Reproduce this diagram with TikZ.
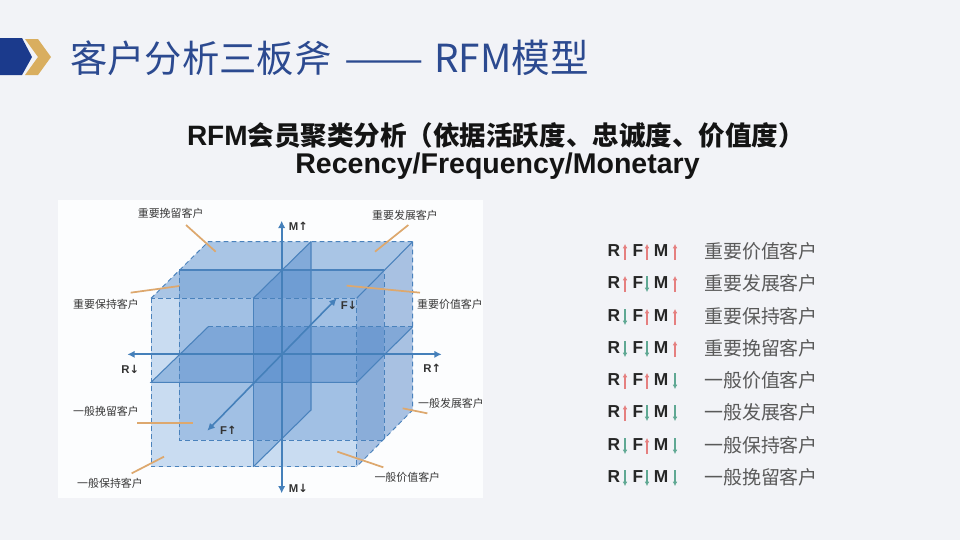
\documentclass[tikz,border=0pt]{standalone}
\usepackage{graphicx}
\usepackage{fontspec}
\setmainfont{Liberation Sans}
\newfontfamily\cjk{Noto Sans CJK SC}
\newfontfamily\symb{DejaVu Sans}
\usetikzlibrary{arrows.meta}
\definecolor{slidebg}{HTML}{F2F3F7}
\definecolor{navy}{HTML}{1B3A8C}
\definecolor{gold}{HTML}{D9AE5F}
\definecolor{titleblue}{HTML}{2C4A90}
\definecolor{panel}{HTML}{FCFDFE}
\definecolor{axisblue}{HTML}{4580BA}
\definecolor{edgeblue}{HTML}{4A82BC}
\definecolor{planeblue}{HTML}{4580C6}
\definecolor{leader}{HTML}{DDA86E}
\definecolor{upred}{HTML}{E57F7F}
\definecolor{downgreen}{HTML}{5FA893}
\definecolor{topface}{HTML}{A9C5E5}
\definecolor{frontface}{HTML}{C9DCF1}
\definecolor{sideface}{HTML}{A8C1E2}
\tikzset{
  txt/.style={inner sep=0pt,outer sep=0pt,anchor=center},
  axisline/.style={draw=axisblue,line width=1.5pt,{Latex[length=5.5pt,width=5.5pt]}-{Latex[length=5.5pt,width=5.5pt]}},
  edgeD/.style={draw=edgeblue,line width=.7pt,dash pattern=on 3.5pt off 2.5pt},
  edgeS/.style={draw=edgeblue,line width=.8pt},
  plane/.style={fill=planeblue,fill opacity=.38},
  leaderline/.style={draw=leader,line width=1.3pt},
  cubelabel/.style={txt,font=\cjk\fontsize{8.2}{10}\selectfont,text=black!78},
  axislabel/.style={txt,font=\bfseries\fontsize{8.5}{10}\selectfont,text=black!80},
  rowletter/.style={txt,font=\bfseries\fontsize{13}{15}\selectfont,text=black!85},
  rowtext/.style={txt,font=\cjk\fontsize{14.2}{16}\selectfont,text=black!65},
  up/.style={draw=upred,line width=.8pt,-{Latex[length=3.2pt,width=3.6pt]}},
  down/.style={draw=downgreen,line width=.8pt,-{Latex[length=3.2pt,width=3.6pt]}},
}
\newcommand{\rowarrow}[4]{%
  \ifnum#4=1
    \coordinate (#1a) at (#2,#3+9); \coordinate (#1b) at (#2,#3-7);
    \draw[up] (#1a) -- (#1b);
  \else
    \coordinate (#1a) at (#2,#3-7); \coordinate (#1b) at (#2,#3+9);
    \draw[down] (#1a) -- (#1b);
  \fi}
\begin{document}
\begin{tikzpicture}[x=.75pt,y=-.75pt]
\useasboundingbox (0,0) rectangle (960,540);
\fill[slidebg] (0,0) rectangle (960,540);
% header
\fill[navy] (0,38) -- (22,38) -- (32,57) -- (22,75) -- (0,75) -- cycle;
\fill[gold] (25,39) -- (38,39) -- (51,57) -- (38,75) -- (25,75) -- (38,57) -- cycle;
\node[txt,anchor=west,text=titleblue,font=\cjk\fontsize{28}{32}\selectfont] (title) at (70,58) {客户分析三板斧\hspace{9.5pt}\scalebox{1.27}[1]{——}\hspace{8pt}{\fontsize{29}{32}\selectfont RFM模型}};
\node[txt,anchor=west,font=\cjk\bfseries\fontsize{19.9}{24}\selectfont,text=black!92] (sub1) at (187,135) {{\rmfamily\fontsize{21}{24}\selectfont RFM}会员聚类分析（依据活跃度、忠诚度、价值度）};
\node[txt,font=\bfseries\fontsize{21.4}{24}\selectfont,text=black!92] (sub2) at (497.5,166) {Recency/Frequency/Monetary};
% image panel
\fill[panel] (58,200) rectangle (483,498);
\begin{scope}[shift={(50,190)},x=.25pt,y=-.25pt]
  % cube faces
  \fill[topface] (475,155) -- (1088,155) -- (920,325) -- (303,325) -- cycle;
  \fill[frontface] (303,325) rectangle (920,830);
  \fill[sideface] (920,325) -- (1088,155) -- (1088,660) -- (920,830) -- cycle;
  % middle slice perpendicular to F
  \fill[plane,fill opacity=.3] (388,240) rectangle (1003,750);
  % horizontal middle plane
  \fill[plane] (475,410) -- (1088,410) -- (920,577) -- (303,577) -- cycle;
  % vertical middle plane
  \fill[plane] (783,155) -- (783,660) -- (610,830) -- (610,325) -- cycle;
  % edges
  \draw[edgeD] (303,325) rectangle (920,830);
  \draw[edgeD] (303,325) -- (475,155) -- (1088,155);
  \draw[edgeS] (1088,155) -- (920,325);
  \draw[edgeD] (1088,155) -- (1088,660) -- (920,830);
  \draw[edgeS] (388,240) -- (1003,240);
  \draw[edgeD] (388,240) -- (388,750) -- (1003,750) -- (1003,240);
  \draw[edgeD] (475,410) -- (1088,410);
  \draw[edgeS] (475,410) -- (303,577) -- (920,577) -- (1088,410);
  \draw[edgeS] (783,155) -- (610,325);
  \draw[edgeS] (610,325) -- (610,830);
  \draw[edgeS] (783,155) -- (783,660) -- (610,830);
  % axis ends
  \coordinate (Mt) at (695,92); \coordinate (Mb) at (695,910);
  \coordinate (Rl) at (232,493); \coordinate (Rr) at (1175,493);
  \coordinate (Fb) at (472,722); \coordinate (Fu) at (860,325);
  \draw[axisline] (Mb) -- (Mt);
  \draw[axisline] (Rl) -- (Rr);
  \draw[axisline,line width=1.2pt] (Fb) -- (Fu);
  % axis labels
  \node[axislabel] (lMu) at (745,108) {M{\symb\bfseries ↑}};
  \node[axislabel] (lMd) at (745,895) {M{\symb\bfseries ↓}};
  \node[axislabel] (lRd) at (241,538) {R{\symb\bfseries ↓}};
  \node[axislabel] (lRu) at (1147,535) {R{\symb\bfseries ↑}};
  \node[axislabel] (lFd) at (897,345) {F{\symb\bfseries ↓}};
  \node[axislabel] (lFu) at (535,720) {F{\symb\bfseries ↑}};
  % cube labels
  \node[cubelabel] (c1) at (362,70) {重要挽留客户};
  \node[cubelabel] (c2) at (1065,75) {重要发展客户};
  \node[cubelabel] (c3) at (168,343) {重要保持客户};
  \node[cubelabel] (c4) at (1200,343) {重要价值客户};
  \node[cubelabel] (c5) at (168,665) {一般挽留客户};
  \node[cubelabel] (c6) at (1203,640) {一般发展客户};
  \node[cubelabel] (c7) at (180,880) {一般保持客户};
  \node[cubelabel] (c8) at (1072,862) {一般价值客户};
  % leader lines
  \coordinate (a1) at (408,105); \coordinate (b1) at (497,185);
  \coordinate (a2) at (1075,105); \coordinate (b2) at (975,185);
  \coordinate (a3) at (242,308); \coordinate (b3) at (388,288);
  \coordinate (a4) at (1110,308); \coordinate (b4) at (890,287);
  \coordinate (a5) at (262,700); \coordinate (b5) at (430,700);
  \coordinate (a6) at (1132,670); \coordinate (b6) at (1058,655);
  \coordinate (a7) at (245,850); \coordinate (b7) at (342,800);
  \coordinate (a8) at (1000,832); \coordinate (b8) at (862,785);
  \foreach \i in {1,...,8} \draw[leaderline] (a\i) -- (b\i);
\end{scope}
% legend rows
\foreach \n/\y/\r/\f/\m/\t in {
  1/251/1/1/1/重要价值客户,
  2/283/1/0/1/重要发展客户,
  3/316/0/1/1/重要保持客户,
  4/348/0/0/1/重要挽留客户,
  5/380/1/1/0/一般价值客户,
  6/412/1/0/0/一般发展客户,
  7/445/0/1/0/一般保持客户,
  8/477/0/0/0/一般挽留客户}{
  \node[rowletter] (R\n) at (614,\y) {R};
  \node[rowletter] (F\n) at (638,\y) {F};
  \node[rowletter] (M\n) at (661,\y) {M};
  \rowarrow{ra\n}{625}{\y}{\r}
  \rowarrow{fa\n}{647}{\y}{\f}
  \rowarrow{ma\n}{675}{\y}{\m}
  \node[rowtext] (T\n) at (761,\y) {\t};
}
\end{tikzpicture}
\end{document}
